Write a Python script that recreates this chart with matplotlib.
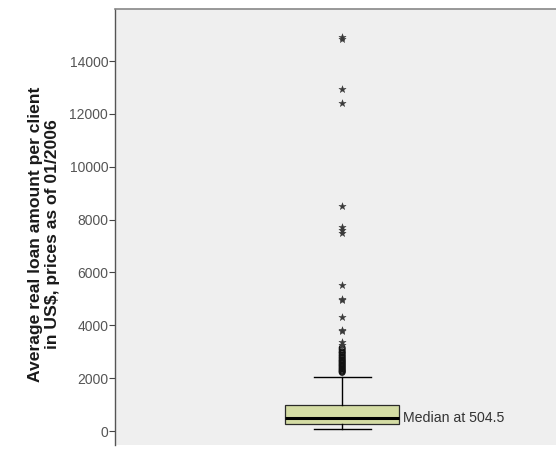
import numpy as np
import matplotlib
matplotlib.use("Agg")
import matplotlib.pyplot as plt

# box summary (US$)
q1 = 265
median = 504.5
q3 = 990
whisker_low = 80
whisker_high = 2040

# mild outliers (circles) and extremes (stars)
mild = [3150, 3080, 3000, 2950, 2880, 2820, 2760, 2700, 2650, 2600, 2550,
        2500, 2450, 2400, 2350, 2300, 2260, 2220]
extreme = [14900, 14850, 12960, 12420, 8500, 7730, 7600, 7500, 5520, 5000,
           4960, 4320, 3840, 3800, 3380, 3260]

yticks = [0, 2000, 4000, 6000, 8000, 10000, 12000, 14000]
label_lines = ['Average real loan amount per client', 'in US$, prices as of 01/2006']

plt.rcParams['font.family'] = ['Liberation Sans', 'DejaVu Sans']

fig = plt.figure(figsize=(5.56, 4.5), dpi=100)
fig.patch.set_facecolor('white')
ax = fig.add_axes([0.207, 0.011, 0.793, 0.969])
ax.set_facecolor('#efefef')

stats = [dict(med=median, q1=q1, q3=q3, whislo=whisker_low, whishi=whisker_high,
              fliers=[], label='')]
bp = ax.bxp(stats, positions=[0.515], widths=0.259, patch_artist=True,
            showfliers=False,
            boxprops=dict(facecolor='#d4dca4', edgecolor='#2a2a2a', linewidth=0.9),
            medianprops=dict(color='black', linewidth=2.2),
            whiskerprops=dict(color='black', linewidth=1.0),
            capprops=dict(color='black', linewidth=1.0),
            capwidths=0.129)

ax.scatter([0.515] * len(mild), mild, marker='o', s=16, facecolors='none',
           edgecolors='#111111', linewidths=1.0, zorder=3)
ax.scatter([0.515] * len(extreme), extreme, marker='*', s=30, color='#3a3a3a',
           linewidths=0.3, zorder=3)

ax.text(0.652, median, 'Median at 504.5', fontsize=10.2, color='#333333',
        va='center', ha='left')

ax.set_xlim(0, 1)
ax.set_ylim(-530, 15970)
ax.set_xticks([])
ax.set_yticks(yticks)
ax.set_yticklabels([str(t) for t in yticks], fontsize=10, color='#555555')
ax.tick_params(axis='y', direction='out', length=4, width=0.8, color='#444444', pad=1)

ax.spines['left'].set_color('#555555')
ax.spines['left'].set_linewidth(1.0)
ax.spines['top'].set_color('#888888')
ax.spines['top'].set_linewidth(1.2)
ax.spines['right'].set_visible(False)
ax.spines['bottom'].set_visible(False)

# two-line axis title, placed line by line for tight spacing
for i, line in enumerate(label_lines):
    fig.text((40 + 17 * i) / 556, 0.48, line, rotation=90, rotation_mode='anchor',
             ha='center', va='baseline', fontsize=12.6, fontweight='bold',
             color='#1a1a1a')

fig.savefig('out.png', dpi=100, facecolor=fig.get_facecolor())
